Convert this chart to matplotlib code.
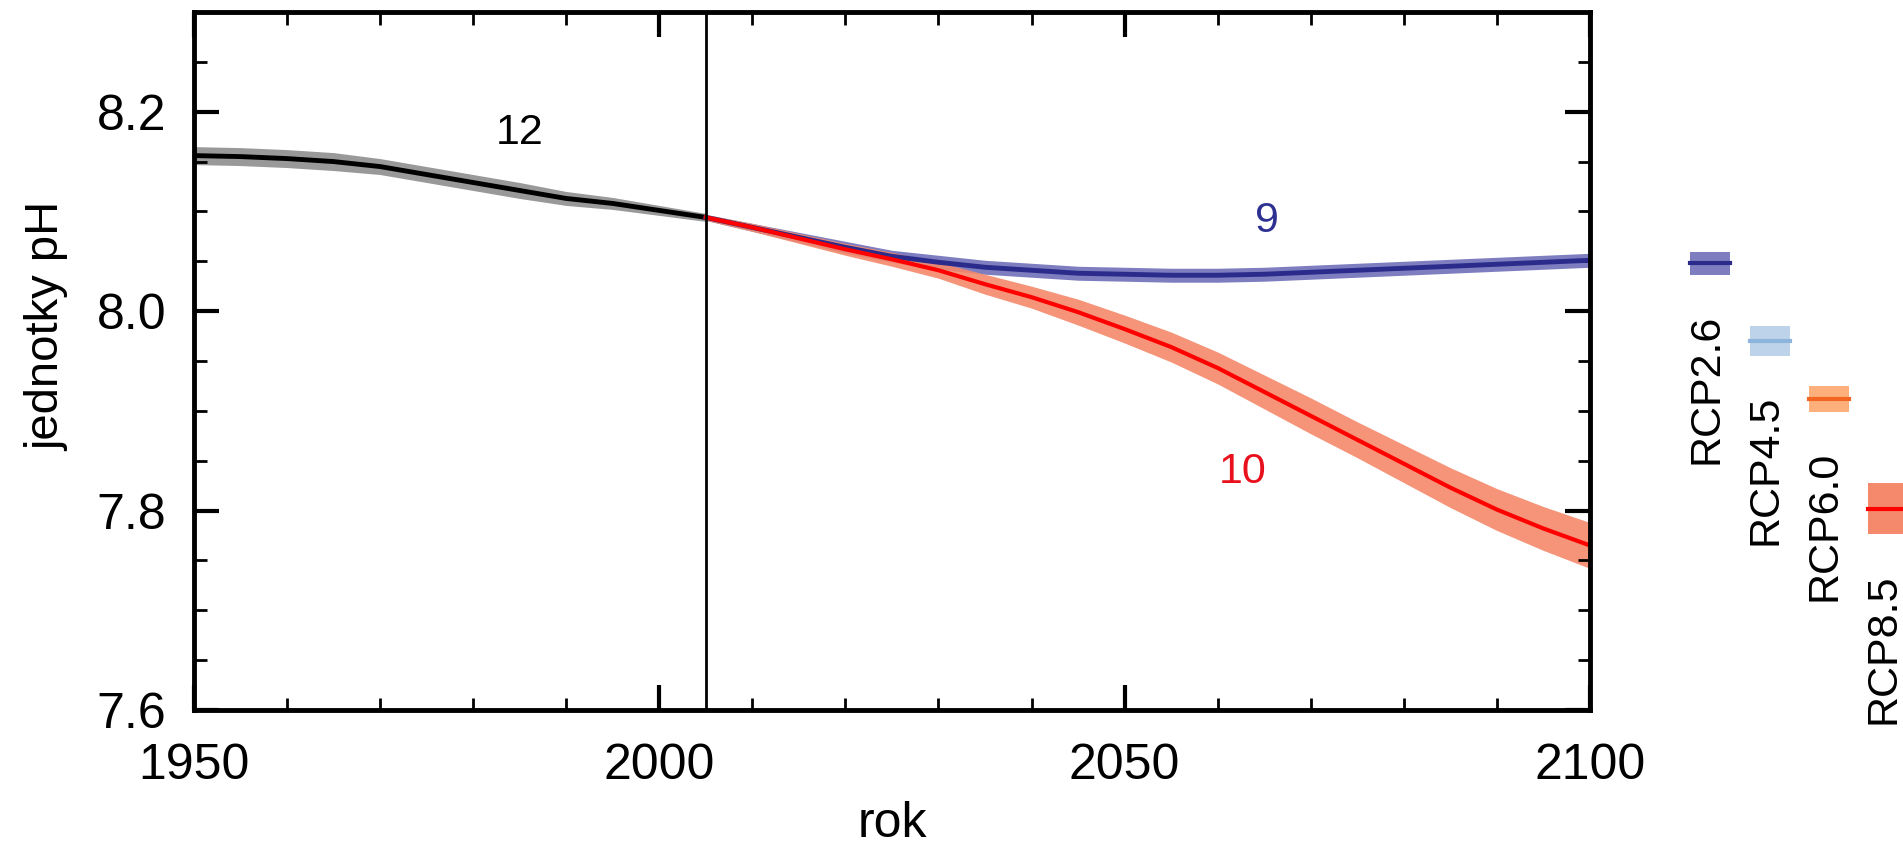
import matplotlib
matplotlib.use("Agg")
import matplotlib.pyplot as plt
from matplotlib.patches import Rectangle
from matplotlib.ticker import MultipleLocator, FormatStrFormatter

plt.rcParams['font.family'] = ['Liberation Sans', 'DejaVu Sans']

# historical (model mean and spread)
hist_years = [1950, 1955, 1960, 1965, 1970, 1975, 1980, 1985, 1990, 1995, 2000, 2005]
hist_ph = [8.156, 8.155, 8.153, 8.150, 8.145, 8.137, 8.129, 8.121, 8.113, 8.108, 8.101, 8.094]
hist_spread = [0.009, 0.009, 0.009, 0.009, 0.008, 0.008, 0.008, 0.008, 0.007, 0.006, 0.005, 0.004]

# projections
proj_years = [2005, 2010, 2015, 2020, 2025, 2030, 2035, 2040, 2045, 2050,
              2055, 2060, 2065, 2070, 2075, 2080, 2085, 2090, 2095, 2100]
rcp26_ph = [8.094, 8.084, 8.074, 8.064, 8.055, 8.049, 8.044, 8.041, 8.038, 8.037,
            8.036, 8.036, 8.037, 8.039, 8.041, 8.043, 8.045, 8.047, 8.049, 8.051]
rcp26_spread = [0.003, 0.004, 0.005, 0.006, 0.006, 0.007, 0.007, 0.007, 0.007, 0.007,
                0.007, 0.007, 0.007, 0.007, 0.007, 0.007, 0.007, 0.007, 0.007, 0.007]
rcp85_ph = [8.094, 8.084, 8.073, 8.062, 8.052, 8.041, 8.027, 8.014, 7.999, 7.982,
            7.964, 7.943, 7.919, 7.895, 7.871, 7.847, 7.823, 7.801, 7.782, 7.765]
rcp85_spread = [0.003, 0.004, 0.005, 0.006, 0.007, 0.008, 0.010, 0.011, 0.013, 0.014,
                0.015, 0.016, 0.017, 0.018, 0.018, 0.019, 0.020, 0.021, 0.022, 0.023]

# 2081-2100 means and ranges (side bars)
scenarios = ['RCP2.6', 'RCP4.5', 'RCP6.0', 'RCP8.5']
end_mean = [8.048, 7.970, 7.912, 7.802]
end_low = [8.036, 7.955, 7.899, 7.776]
end_high = [8.059, 7.985, 7.925, 7.828]

# model counts
n_hist, n_26, n_85 = '12', '9', '10'

band_colors = ['#7d7dc0', '#bcd3ea', '#fdb07c', '#f4896b']
line_colors = ['#2b2b8c', '#8cb4dc', '#f26522', '#ff0000']

fig = plt.figure(figsize=(19.03, 8.46), dpi=100)
ax = fig.add_axes([0.1019, 0.1608, 0.7336, 0.8250])

ax.fill_between(hist_years, [v - s for v, s in zip(hist_ph, hist_spread)],
                [v + s for v, s in zip(hist_ph, hist_spread)], color='#999999', lw=0)
ax.plot(hist_years, hist_ph, color='black', lw=3.5, solid_capstyle='butt')

ax.fill_between(proj_years, [v - s for v, s in zip(rcp26_ph, rcp26_spread)],
                [v + s for v, s in zip(rcp26_ph, rcp26_spread)], color=band_colors[0], lw=0)
ax.fill_between(proj_years, [v - s for v, s in zip(rcp85_ph, rcp85_spread)],
                [v + s for v, s in zip(rcp85_ph, rcp85_spread)], color=band_colors[3], lw=0, alpha=0.9)
ax.plot(proj_years, rcp26_ph, color=line_colors[0], lw=3.5)
ax.plot(proj_years, rcp85_ph, color=line_colors[3], lw=3)

ax.axvline(2005, color='black', lw=2)

ax.text(1985, 8.179, n_hist, fontsize=31, color='black', ha='center', va='center')
ax.text(2065.3, 8.09, n_26, fontsize=31, color='#2e3192', ha='center', va='center')
ax.text(2062.7, 7.839, n_85, fontsize=31, color='#e8101c', ha='center', va='center')

# side bars outside the axes
x0, step, w = 2110.8, 6.35, 4.3
for i, name in enumerate(scenarios):
    xl = x0 + i * step
    ax.add_patch(Rectangle((xl, end_low[i]), w, end_high[i] - end_low[i],
                           color=band_colors[i], lw=0, clip_on=False))
    ax.plot([xl, xl + w], [end_mean[i], end_mean[i]], color=line_colors[i], lw=3, clip_on=False)
    ax.annotate(name, xy=(xl + w / 2, end_low[i]), xytext=(-3, -28), textcoords='offset points',
                rotation=90, ha='center', va='top', fontsize=31, annotation_clip=False)

ax.set_xlim(1950, 2100)
ax.set_ylim(7.6, 8.3)
ax.xaxis.set_major_locator(MultipleLocator(50))
ax.xaxis.set_minor_locator(MultipleLocator(10))
ax.yaxis.set_major_locator(MultipleLocator(0.2))
ax.yaxis.set_minor_locator(MultipleLocator(0.05))
ax.yaxis.set_major_formatter(FormatStrFormatter('%.1f'))
ax.tick_params(which='both', direction='in', top=True, right=True, labelsize=36)
ax.tick_params(which='major', length=18, width=3)
ax.tick_params(which='minor', length=9, width=2)
ax.tick_params(axis='y', pad=20)
ax.tick_params(axis='x', pad=24)
for sp in ax.spines.values():
    sp.set_linewidth(3.5)

ax.set_xlabel('rok', fontsize=36)
ax.xaxis.label.set_va('baseline')
ax.xaxis.set_label_coords(0.5, -0.182)
ax.set_ylabel('jednotky pH', fontsize=34)
ax.yaxis.set_label_coords(-0.089, 0.55)

fig.savefig('out.png', dpi=100)
